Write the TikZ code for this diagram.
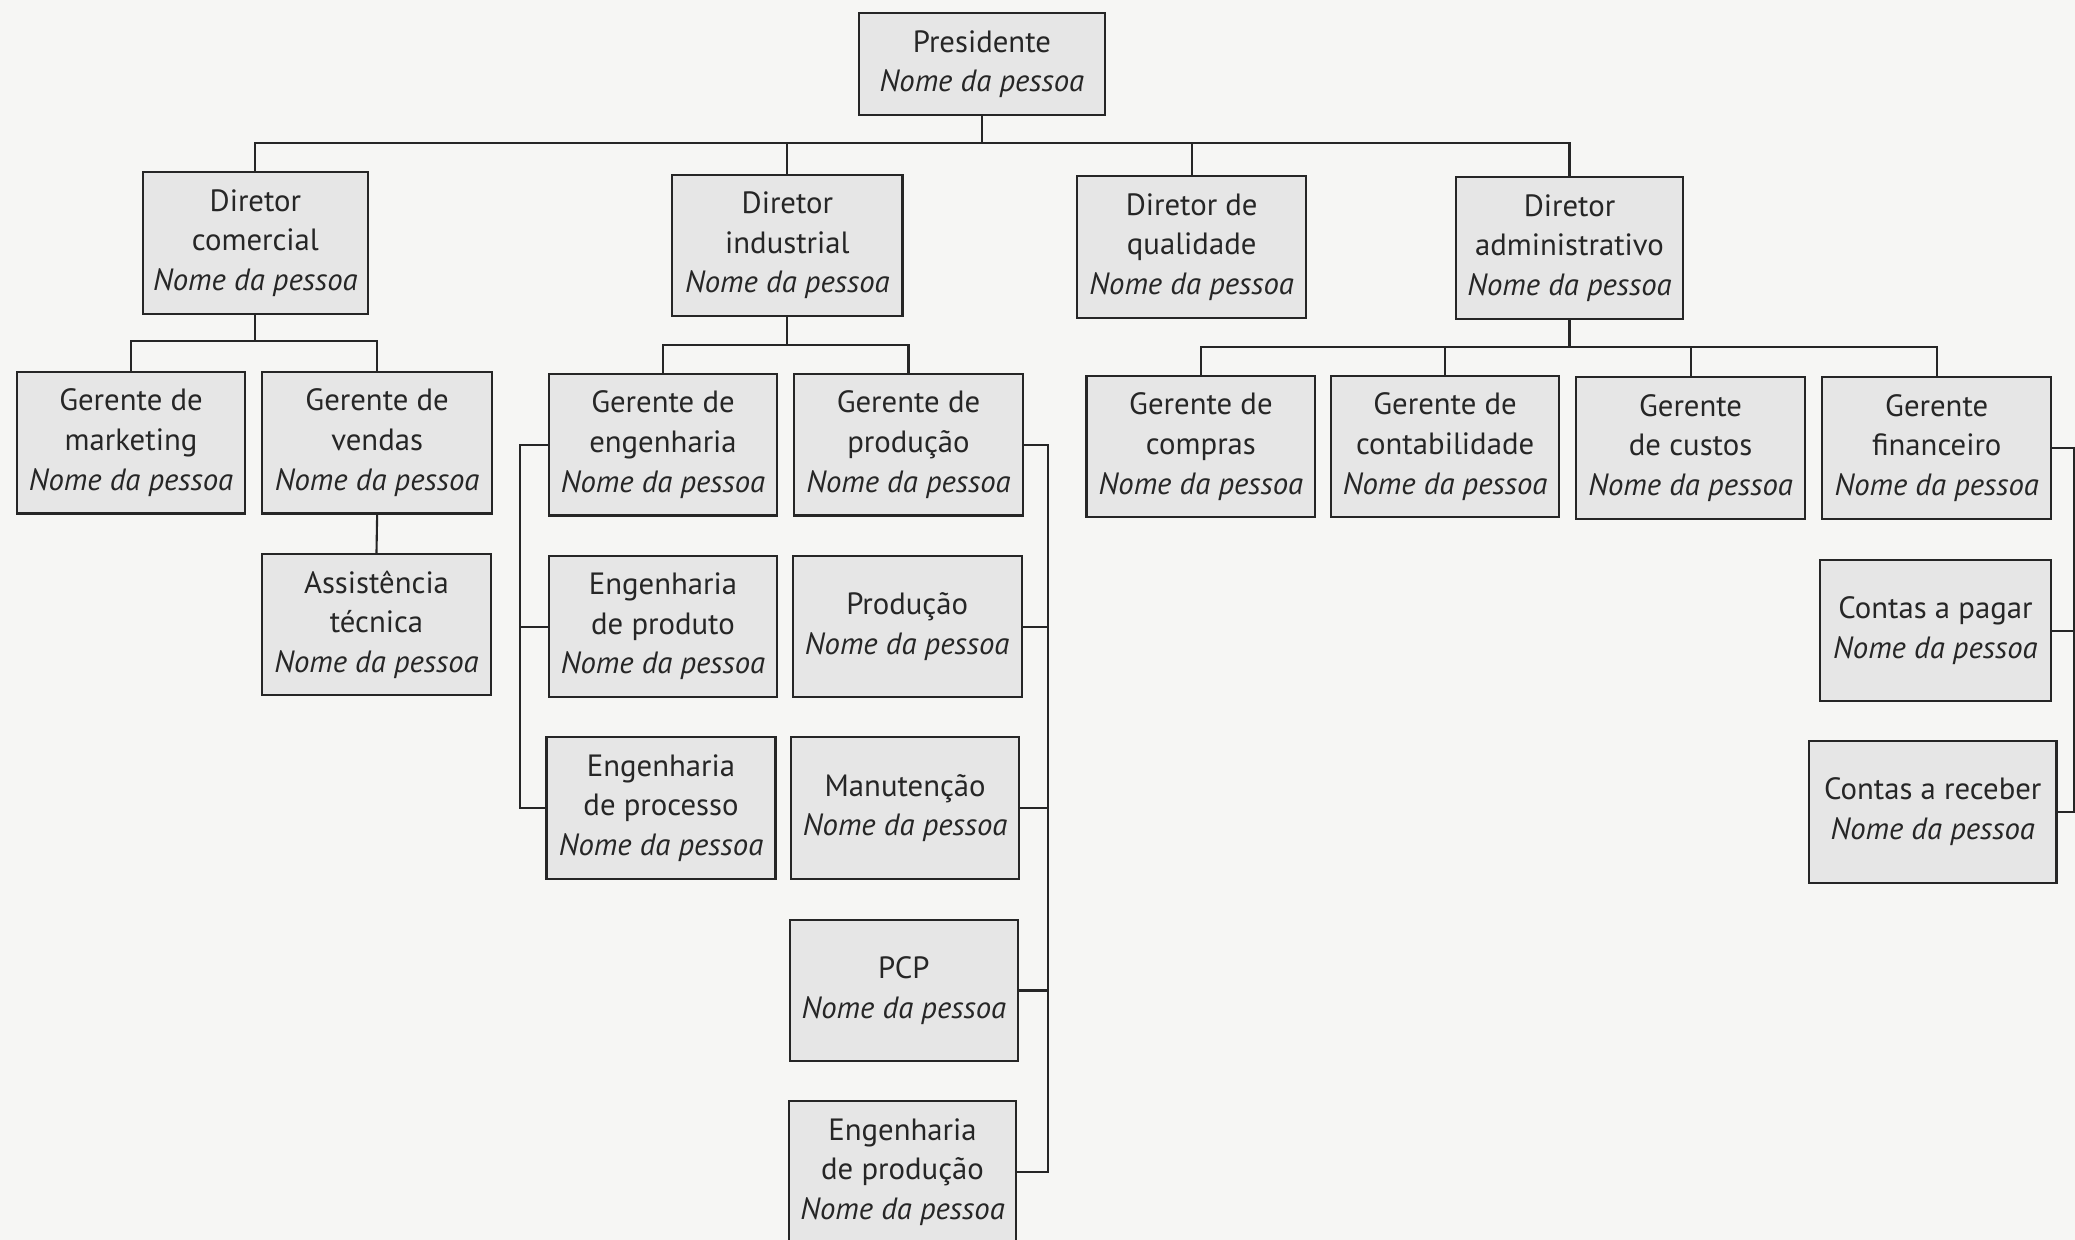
\documentclass[tikz,border=0pt]{standalone}
\usepackage{fontspec}
\setmainfont{PT Sans}
\definecolor{bg}{HTML}{F6F6F4}
\definecolor{boxfill}{HTML}{E6E6E6}
\definecolor{ink}{HTML}{262626}
\begin{document}
\begin{tikzpicture}[x=0.2647mm,y=-0.2647mm,
  bw/.style={minimum width=#1*0.2647mm},
  bh/.style={minimum height=#1*0.2647mm},
  orgbox/.style={draw=ink,line width=1.2pt,fill=boxfill,align=center,inner sep=0pt,
    bw=172,bh=107,text=ink,
    font=\fontsize{17.5}{22.5}\selectfont},
  link/.style={draw=ink,line width=1.2pt}]
\fill[bg] (0,0) rectangle (1568,937);
\useasboundingbox (0,0) rectangle (1568,937);
\begin{scope}
\clip (0,0) rectangle (1568,937);
% nodes
\node[orgbox,bw=186,bh=77] (pres) at (742,48.5) {Presidente\\\textit{Nome da pessoa}};
\node[orgbox,bw=170] (dcom) at (193,183.5) {Diretor\\comercial\\\textit{Nome da pessoa}};
\node[orgbox,bw=174] (dind) at (595,185.5) {Diretor\\industrial\\\textit{Nome da pessoa}};
\node[orgbox,bw=173] (dqual) at (900.5,186.5) {Diretor de\\qualidade\\\textit{Nome da pessoa}};
\node[orgbox] (dadm) at (1186,187.5) {Diretor\\administrativo\\\textit{Nome da pessoa}};
\node[orgbox] (gmkt) at (99,334.5) {Gerente de\\marketing\\\textit{Nome da pessoa}};
\node[orgbox,bw=174] (gvend) at (285,334.5) {Gerente de\\vendas\\\textit{Nome da pessoa}};
\node[orgbox,bw=173] (assist) at (284.5,472) {Assistência\\técnica\\\textit{Nome da pessoa}};
\node[orgbox] (geng) at (501,336) {Gerente de\\engenharia\\\textit{Nome da pessoa}};
\node[orgbox,bw=173] (gprod) at (686.5,336) {Gerente de\\produção\\\textit{Nome da pessoa}};
\node[orgbox] (engprod) at (501,473.5) {Engenharia\\de produto\\\textit{Nome da pessoa}};
\node[orgbox,bw=173] (engproc) at (499.5,610.5) {Engenharia\\de processo\\\textit{Nome da pessoa}};
\node[orgbox,bw=173] (prod) at (685.5,473.5) {Produção\\\textit{Nome da pessoa}};
\node[orgbox] (manut) at (684,610.5) {Manutenção\\\textit{Nome da pessoa}};
\node[orgbox] (pcp) at (683,748.5) {PCP\\\textit{Nome da pessoa}};
\node[orgbox] (engpr) at (682,885.5) {Engenharia\\de produção\\\textit{Nome da pessoa}};
\node[orgbox,bw=173] (gcomp) at (907.5,337.5) {Gerente de\\compras\\\textit{Nome da pessoa}};
\node[orgbox] (gcont) at (1092,337.5) {Gerente de\\contabilidade\\\textit{Nome da pessoa}};
\node[orgbox,bw=173] (gcust) at (1277.5,338.5) {Gerente\\de custos\\\textit{Nome da pessoa}};
\node[orgbox,bw=173] (gfin) at (1463.5,338.5) {Gerente\\financeiro\\\textit{Nome da pessoa}};
\node[orgbox,bw=175] (cpag) at (1462.5,476.5) {Contas a pagar\\\textit{Nome da pessoa}};
\node[orgbox,bw=187] (crec) at (1460.5,613.5) {Contas a receber\\\textit{Nome da pessoa}};
% bus coordinates
\coordinate (b1) at (0,108);
\coordinate (b2) at (0,258);
\coordinate (b3) at (0,261);
\coordinate (b4) at (0,262);
\coordinate (eb) at (393,0);
\coordinate (pb) at (792,0);
\coordinate (fb) at (1567.5,0);
% president -> directors
\draw[link] (pres.south) -- (pres.south |- b1);
\draw[link] (dcom.north) -- (dcom.north |- b1) -- (dadm.north |- b1) -- (dadm.north);
\draw[link] (dind.north) -- (dind.north |- b1);
\draw[link] (dqual.north) -- (dqual.north |- b1);
% comercial
\draw[link] (dcom.south) -- (dcom.south |- b2);
\draw[link] (gmkt.north) -- (gmkt.north |- b2) -- (gvend.north |- b2) -- (gvend.north);
\draw[link] (gvend.south) -- (assist.north);
% industrial
\draw[link] (dind.south) -- (dind.south |- b3);
\draw[link] (geng.north) -- (geng.north |- b3) -- (gprod.north |- b3) -- (gprod.north);
\draw[link] (geng.west) -- (geng.west -| eb) -- (engproc.west -| eb) -- (engproc.west);
\draw[link] (engprod.west) -- (engprod.west -| eb);
\draw[link] (gprod.east) -- (gprod.east -| pb) -- (engpr.east -| pb) -- (engpr.east);
\draw[link] (prod.east) -- (prod.east -| pb);
\draw[link] (manut.east) -- (manut.east -| pb);
\draw[link] (pcp.east) -- (pcp.east -| pb);
% administrativo
\draw[link] (dadm.south) -- (dadm.south |- b4);
\draw[link] (gcomp.north) -- (gcomp.north |- b4) -- (gfin.north |- b4) -- (gfin.north);
\draw[link] (gcont.north) -- (gcont.north |- b4);
\draw[link] (gcust.north) -- (gcust.north |- b4);
\draw[link] (gfin.east) -- (gfin.east -| fb) -- (crec.east -| fb) -- (crec.east);
\draw[link] (cpag.east) -- (cpag.east -| fb);
\end{scope}
\end{tikzpicture}
\end{document}
